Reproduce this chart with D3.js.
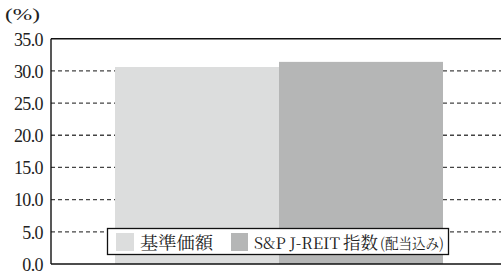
<!DOCTYPE html>
<html><head><meta charset="utf-8">
<script src="https://cdn.jsdelivr.net/npm/d3@7"></script>
<style>html,body{margin:0;padding:0;background:#fff;}svg{display:block;}
text.serif{font-family:"Liberation Serif","Times New Roman",Times,"DejaVu Serif","Noto Serif",serif !important;}
text.cjk{font-family:"Noto Serif CJK JP","Noto Sans CJK JP","Noto Sans",sans-serif;}
</style>
</head><body>
<script>
const categories = ["基準価額", "S&P J-REIT指数（配当込み）"];
const values = [30.6, 31.4];
const colors = ["#dcdddd", "#b5b6b6"];
const ticks = [0, 5, 10, 15, 20, 25, 30, 35];
const tickLabels = ["0.0","5.0","10.0","15.0","20.0","25.0","30.0","35.0"];
const unitLabel = "(%)";

(function () {
const W = 501, H = 275;
const svg = d3.select("body").append("svg").attr("width", W).attr("height", H);
const pLeft = 51, pTop = 38.7, pBottom = 264;

const y = d3.scaleLinear().domain([0, 35]).range([pBottom, pTop]);
const x = d3.scaleBand().domain(categories).range([115, 443]).paddingInner(0).paddingOuter(0);

svg.append("g").selectAll("line").data(ticks.filter(t => t > 0 && t < 35)).join("line")
  .attr("x1", pLeft).attr("x2", W).attr("y1", d => y(d)).attr("y2", d => y(d))
  .attr("stroke", "#444").attr("stroke-width", 1.3).attr("stroke-dasharray", "4,3");

svg.append("g").selectAll("rect").data(values).join("rect")
  .attr("x", (d, i) => x(categories[i])).attr("width", x.bandwidth())
  .attr("y", d => y(d)).attr("height", d => y(0) - y(d))
  .attr("fill", (d, i) => colors[i]);

svg.append("line").attr("x1", pLeft).attr("x2", W).attr("y1", pTop).attr("y2", pTop).attr("stroke", "#111").attr("stroke-width", 1.4);
svg.append("line").attr("x1", pLeft).attr("x2", W).attr("y1", pBottom).attr("y2", pBottom).attr("stroke", "#111").attr("stroke-width", 1.4);
svg.append("line").attr("x1", pLeft).attr("x2", pLeft).attr("y1", pTop).attr("y2", pBottom).attr("stroke", "#111").attr("stroke-width", 1.4);

const yAxis = d3.axisLeft(y).tickValues(ticks).tickFormat((d, i) => tickLabels[i]).tickSize(0).tickPadding(8);
const ag = svg.append("g").attr("transform", `translate(${pLeft},0)`).call(yAxis);
ag.attr("font-family", null).attr("font-size", null);
ag.select(".domain").remove();
ag.selectAll("text").attr("class", "serif").style("font-size", "18px").attr("fill", "#222")
  .attr("dy", "0.35em").attr("letter-spacing", "-0.6px");

svg.append("text").attr("class", "serif").attr("x", 5).attr("y", 20)
  .style("font-size", "17px").attr("fill", "#222").attr("textLength", 35).attr("lengthAdjust", "spacingAndGlyphs").text(unitLabel);

const lg = svg.append("g");
lg.append("rect").attr("x", 107.5).attr("y", 228.5).attr("width", 341).attr("height", 26)
  .attr("fill", "#fff").attr("stroke", "#111").attr("stroke-width", 1.3);
lg.append("rect").attr("x", 116).attr("y", 233).attr("width", 18).attr("height", 18).attr("fill", colors[0]);
lg.append("rect").attr("x", 231).attr("y", 233).attr("width", 17).attr("height", 18).attr("fill", colors[1]);
lg.append("text").attr("class", "cjk").attr("x", 140).attr("y", 249)
  .style("font-size", "17.5px").attr("fill", "#222").attr("textLength", 73).attr("lengthAdjust", "spacingAndGlyphs").text(categories[0]);
lg.append("text").attr("class", "cjk").attr("x", 254).attr("y", 249).attr("fill", "#222")
  .style("font-size", "16px").attr("textLength", 86).attr("lengthAdjust", "spacing").text("S&P J-REIT");
lg.append("text").attr("class", "cjk").attr("x", 343).attr("y", 249).attr("fill", "#222")
  .style("font-size", "17px").attr("textLength", 35).attr("lengthAdjust", "spacingAndGlyphs").text("指数");
lg.append("text").attr("class", "cjk").attr("x", 380).attr("y", 249).attr("fill", "#222")
  .style("font-size", "15px").attr("textLength", 64).attr("lengthAdjust", "spacingAndGlyphs").text("(配当込み)");
})();
</script>
</body></html>
